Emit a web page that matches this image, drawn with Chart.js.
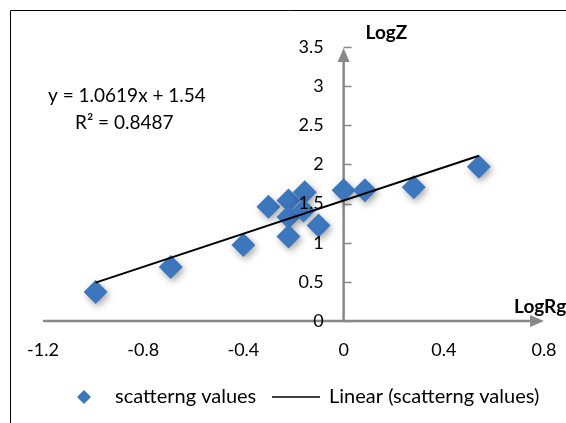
<!DOCTYPE html>
<html>
<head>
<meta charset="utf-8">
<script src="https://cdn.jsdelivr.net/npm/chart.js@4.4.1/dist/chart.umd.min.js"></script>
<style>
  body { margin: 0; background: #fff; }
  canvas { display: block; }
</style>
</head>
<body>
<canvas id="grafico" width="566" height="423"></canvas>
<script>
// valores
const logRg = [-0.99, -0.69, -0.40, -0.30, -0.22, -0.22, -0.22, -0.155, -0.16, -0.10, 0.0, 0.085, 0.28, 0.54];
const logZ = [0.37, 0.69, 0.97, 1.46, 1.54, 1.33, 1.08, 1.645, 1.41, 1.22, 1.67, 1.67, 1.71, 1.97];
const trendX = [-0.99, 0.54];
const trendY = [0.49, 2.11];
const xTicks = [-1.2, -0.8, -0.4, 0, 0.4, 0.8];
const yTicks = [0, 0.5, 1, 1.5, 2, 2.5, 3, 3.5];
const equation = 'y = 1.0619x + 1.54';
const rSquared = 'R² = 0.8487';
const seriesName = 'scatterng values';
const trendName = 'Linear (scatterng values)';

const fuente = 'Lato, "Open Sans", sans-serif';
const gris = '#888888';
const azul = '#3C76BC';

// sombra de los rombos
const sombra = {
  id: 'sombra',
  beforeDatasetDraw(chart, args) {
    if (args.index !== 0) return;
    const ctx = chart.ctx;
    ctx.save();
    ctx.shadowColor = 'rgba(0,0,0,0.35)';
    ctx.shadowBlur = 7;
    ctx.shadowOffsetX = 2;
    ctx.shadowOffsetY = 3;
  },
  afterDatasetDraw(chart, args) {
    if (args.index !== 0) return;
    chart.ctx.restore();
  }
};

// ejes cruzados en cero con flechas
const ejes = {
  id: 'ejes',
  beforeDatasetsDraw(chart) {
    const { ctx, scales: { x, y } } = chart;
    const x0 = x.getPixelForValue(0);
    const y0 = y.getPixelForValue(0);
    ctx.save();
    ctx.strokeStyle = gris;
    ctx.fillStyle = gris;
    ctx.lineWidth = 2.5;
    ctx.beginPath();
    ctx.moveTo(x.left, y0);
    ctx.lineTo(x.right - 10, y0);
    ctx.moveTo(x0, y0);
    ctx.lineTo(x0, y.top + 12);
    ctx.stroke();
    ctx.beginPath();
    ctx.moveTo(x.right, y0);
    ctx.lineTo(x.right - 14, y0 - 6);
    ctx.lineTo(x.right - 14, y0 + 6);
    ctx.closePath();
    ctx.fill();
    ctx.beginPath();
    ctx.moveTo(x0, y.top + 1);
    ctx.lineTo(x0 - 6, y.top + 15);
    ctx.lineTo(x0 + 6, y.top + 15);
    ctx.closePath();
    ctx.fill();
    ctx.lineWidth = 1.5;
    ctx.beginPath();
    yTicks.forEach(v => {
      const py = Math.round(y.getPixelForValue(v)) + 0.5;
      ctx.moveTo(x0, py);
      ctx.lineTo(x0 + 8, py);
    });
    ctx.stroke();
    ctx.restore();
  },
  afterDatasetsDraw(chart) {
    // etiquetas del eje Y encima de los rombos
    const { ctx, scales: { x, y } } = chart;
    const x0 = x.getPixelForValue(0);
    ctx.save();
    ctx.fillStyle = '#000';
    ctx.font = '18px ' + fuente;
    ctx.textAlign = 'right';
    ctx.textBaseline = 'middle';
    yTicks.forEach(v => ctx.fillText(String(v), x0 - 20, y.getPixelForValue(v)));
    ctx.restore();
  },
  afterDraw(chart) {
    const { ctx, scales: { x, y } } = chart;
    const x0 = x.getPixelForValue(0);
    const y0 = y.getPixelForValue(0);
    ctx.save();
    ctx.fillStyle = '#000';
    ctx.textBaseline = 'middle';
    ctx.textAlign = 'left';
    ctx.font = 'bold 19px ' + fuente;
    ctx.fillText('LogZ', x0 + 22, y.top - 14);
    ctx.fillText('LogRg', x.right - 30, y0 - 14);

    ctx.font = '19px ' + fuente;
    ctx.fillText(equation, 48, 96);
    ctx.fillText(rSquared, 75, 123);

    // leyenda
    const ly = 397;
    ctx.fillStyle = azul;
    ctx.beginPath();
    ctx.moveTo(84, ly - 7);
    ctx.lineTo(91, ly);
    ctx.lineTo(84, ly + 7);
    ctx.lineTo(77, ly);
    ctx.closePath();
    ctx.fill();
    ctx.fillStyle = '#000';
    ctx.font = '20px ' + fuente;
    ctx.fillText(seriesName, 115, ly);
    ctx.strokeStyle = '#000';
    ctx.lineWidth = 1.5;
    ctx.beginPath();
    ctx.moveTo(272, ly);
    ctx.lineTo(320, ly);
    ctx.stroke();
    ctx.fillText(trendName, 329, ly);

    // marco
    ctx.lineWidth = 1;
    ctx.beginPath();
    ctx.moveTo(10.5, 423);
    ctx.lineTo(10.5, 10.5);
    ctx.lineTo(566, 10.5);
    ctx.stroke();
    ctx.restore();
  }
};

const ctx = document.getElementById('grafico').getContext('2d');
new Chart(ctx, {
  type: 'scatter',
  data: {
    datasets: [{
      label: seriesName,
      data: logRg.map((v, i) => ({ x: v, y: logZ[i] })),
      pointStyle: 'rectRot',
      pointRadius: 12,
      pointHoverRadius: 12,
      backgroundColor: azul,
      borderColor: azul,
      borderWidth: 0,
      order: 2
    }, {
      type: 'line',
      label: trendName,
      data: trendX.map((v, i) => ({ x: v, y: trendY[i] })),
      borderColor: '#000',
      borderWidth: 2,
      pointRadius: 0,
      fill: false,
      order: 1
    }]
  },
  options: {
    responsive: false,
    animation: false,
    devicePixelRatio: 1,
    layout: { padding: { left: 43, right: 22, top: 47, bottom: 0 } },
    plugins: {
      legend: { display: false },
      tooltip: { enabled: false }
    },
    scales: {
      x: {
        type: 'linear',
        position: 'bottom',
        min: -1.2,
        max: 0.8,
        afterBuildTicks: s => { s.ticks = xTicks.map(v => ({ value: v })); },
        afterFit: s => { s.height = 102; },
        grid: { display: false, tickLength: 16 },
        border: { display: false },
        ticks: { color: '#000', font: { family: fuente, size: 18 }, padding: 2, maxRotation: 0, autoSkip: false }
      },
      y: {
        type: 'linear',
        position: { x: 0 },
        min: 0,
        max: 3.5,
        afterBuildTicks: s => { s.ticks = yTicks.map(v => ({ value: v })); },
        afterFit: s => { s.width = 0; },
        grid: { display: false },
        border: { display: false },
        ticks: { display: false }
      }
    }
  },
  plugins: [sombra, ejes]
});
</script>
</body>
</html>
